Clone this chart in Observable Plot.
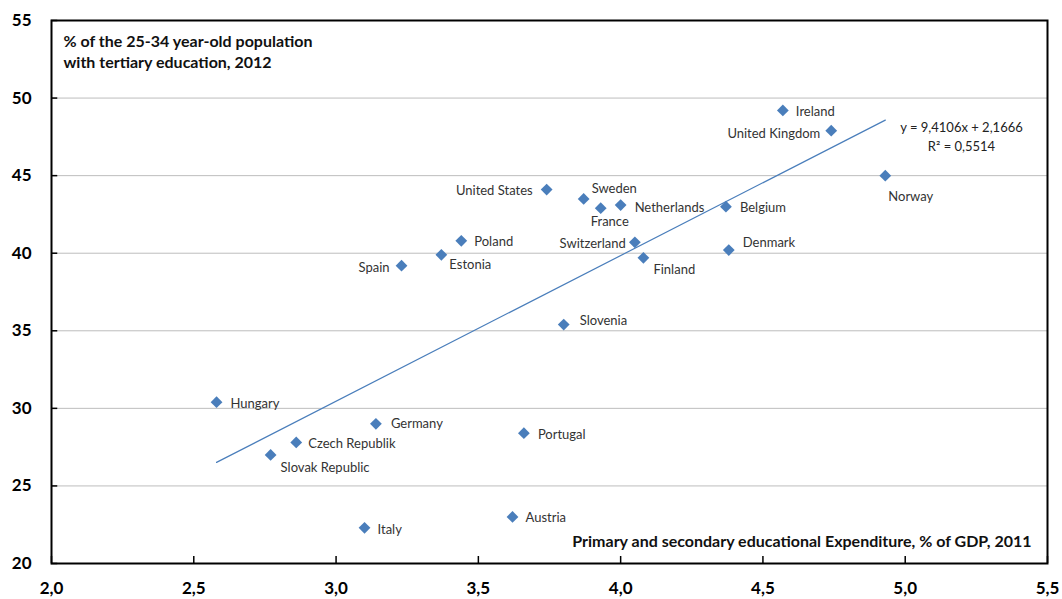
<!DOCTYPE html>
<html>
<head>
<meta charset="utf-8">
<script src="https://cdn.jsdelivr.net/npm/d3@7"></script>
<script src="https://cdn.jsdelivr.net/npm/@observablehq/plot@0.6"></script>
<style>
  html, body { margin: 0; padding: 0; background: #fff; }
  #chart svg { display: block; }
</style>
</head>
<body>
<div id="chart"></div>
<script>
// ---- Data ----
const countries = ["Ireland","United Kingdom","Norway","United States","Sweden","France","Netherlands","Belgium","Switzerland","Denmark","Finland","Poland","Estonia","Spain","Slovenia","Hungary","Germany","Czech Republik","Slovak Republic","Portugal","Austria","Italy"];
const expenditure = [4.57, 4.74, 4.93, 3.74, 3.87, 3.93, 4.00, 4.37, 4.05, 4.38, 4.08, 3.44, 3.37, 3.23, 3.80, 2.58, 3.14, 2.86, 2.77, 3.66, 3.62, 3.10];
const tertiary    = [49.2, 47.9, 45.0, 44.1, 43.5, 42.9, 43.1, 43.0, 40.7, 40.2, 39.7, 40.8, 39.9, 39.2, 35.4, 30.4, 29.0, 27.8, 27.0, 28.4, 23.0, 22.3];
const xTicks = [2.0, 2.5, 3.0, 3.5, 4.0, 4.5, 5.0, 5.5];
const yTicks = [20, 25, 30, 35, 40, 45, 50, 55];
const gridValues = [25, 30, 35, 40, 45, 50];
const yTitle = ["% of the 25-34 year-old population", "with tertiary education, 2012"];
const xTitle = "Primary and secondary educational Expenditure, % of GDP, 2011";
const equationText = ["y = 9,4106x + 2,1666", "R² = 0,5514"];

// ---- Label placement (layout only) ----
const labelPlacement = {
  "Ireland": ["start", 13, 1],
  "United Kingdom": ["end", -11, 3],
  "Norway": ["start", 3, 21],
  "United States": ["end", -14, 1],
  "Sweden": ["start", 8, -10],
  "France": ["start", -10, 14],
  "Netherlands": ["start", 14, 3],
  "Belgium": ["start", 14, 1],
  "Switzerland": ["end", -9, 1],
  "Denmark": ["start", 14, -7],
  "Finland": ["start", 10, 12],
  "Poland": ["start", 13, 1],
  "Estonia": ["start", 8, 10],
  "Spain": ["end", -12, 2],
  "Slovenia": ["start", 16, -4],
  "Hungary": ["start", 14, 2],
  "Germany": ["start", 15, 0],
  "Czech Republik": ["start", 12, 1],
  "Slovak Republic": ["start", 10, 13],
  "Portugal": ["start", 14, 2],
  "Austria": ["start", 13, 1],
  "Italy": ["start", 13, 2]
};

const data = countries.map((c, i) => ({country: c, x: expenditure[i], y: tertiary[i]}));
const fmt = d => d3.format(".1f")(d).replace(".", ",");
const blue = "#4a7ebb";
const font = "Lato, 'Open Sans', sans-serif";

const labelMarks = data.map(d => Plot.text([d], {
  x: "x", y: "y", text: "country",
  textAnchor: labelPlacement[d.country][0],
  dx: labelPlacement[d.country][1],
  dy: labelPlacement[d.country][2],
  fontSize: 13, fill: "#333"
}));

const chart = Plot.plot({
  width: 1062,
  height: 599,
  marginLeft: 51,
  marginRight: 15,
  marginTop: 20,
  marginBottom: 36,
  style: {fontFamily: font, background: "#fff", color: "#000"},
  x: {domain: [2, 5.5]},
  y: {domain: [20, 55]},
  marks: [
    Plot.gridY(gridValues, {stroke: "#bdbdbd", strokeOpacity: 1, strokeWidth: 1}),
    Plot.axisX({ticks: xTicks, tickFormat: fmt, tickSize: 0, tickPadding: 18, fontSize: 17, fontWeight: "bold", label: null}),
    Plot.axisY({ticks: yTicks, tickFormat: d => String(d), tickSize: 0, tickPadding: 20, fontSize: 17, fontWeight: "bold", label: null}),
    Plot.ruleX(xTicks, {x: d => d, y1: 20, y2: 20.45, stroke: "#000", strokeWidth: 1.5}),
    Plot.ruleY(yTicks, {y: d => d, x1: 2, x2: 2.022, stroke: "#000", strokeWidth: 1.5}),
    Plot.frame({stroke: "#000", strokeWidth: 2}),
    Plot.linearRegressionY(data, {x: "x", y: "y", ci: 0, stroke: blue, strokeWidth: 1.2}),
    Plot.dot(data, {x: "x", y: "y", symbol: "diamond2", r: 5.3, fill: blue, stroke: "none"}),
    ...labelMarks,
    Plot.text([equationText.join("\n")], {frameAnchor: "top-right", dx: -86, dy: 98, textAnchor: "middle", lineHeight: 1.45, fontSize: 13, fill: "#222"}),
    Plot.text([yTitle.join("\n")], {frameAnchor: "top-left", dx: 12, dy: 11, textAnchor: "start", lineAnchor: "top", lineHeight: 1.35, fontSize: 16, fontWeight: "bold", fill: "#111"}),
    Plot.text([xTitle], {frameAnchor: "bottom-right", dx: -16, dy: -17, textAnchor: "end", fontSize: 16, fontWeight: "bold", fill: "#111"})
  ]
});
document.getElementById("chart").appendChild(chart);
</script>
</body>
</html>
